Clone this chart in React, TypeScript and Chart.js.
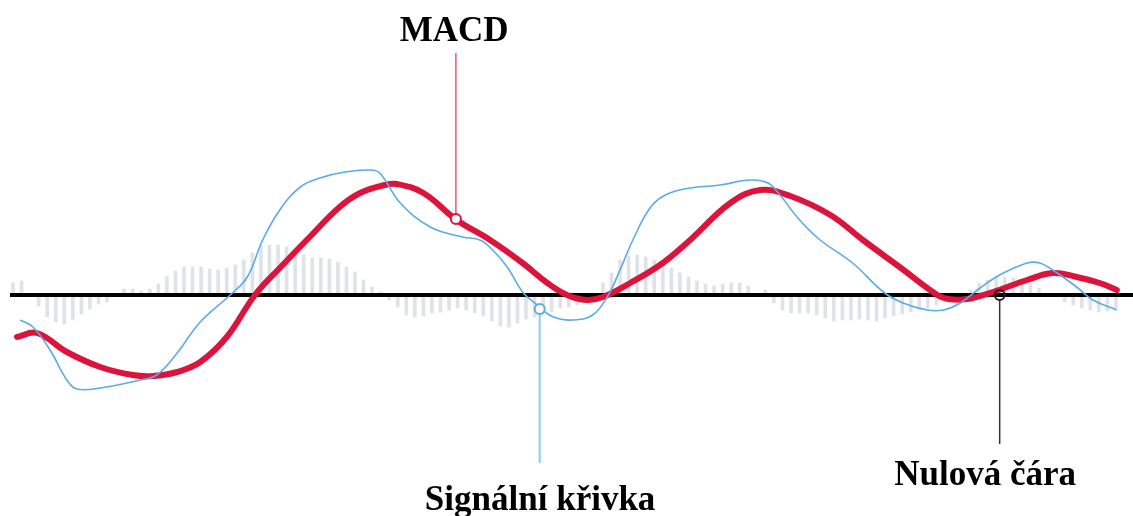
import React, { useEffect, useRef } from "react";
import { Chart, registerables } from "chart.js";

Chart.register(...registerables);

// Histogram (MACD - signal), one bar per period
const histogram: number[] = [
  12, 14, 0, -11, -22, -27, -29, -25, -19, -14, -9, -7, 0, 6, 6, 4, 6, 11, 19, 24, 28, 28, 28, 26, 25, 27, 30, 35, 42,
  50, 50, 50, 48, 43, 40, 37, 37, 36, 33, 28, 23, 15, 8,
  3, -5, -12, -20, -22, -21, -18, -17, -15, -13, -15, -18, -21, -26, -31, -32, -28, -24, -22, -20, -17, -13, -12, -10,
  -7, -4, 12, 22, 35, 39, 40, 38, 35, 32, 27, 22, 18, 14, 11, 9, 11, 12, 12, 9,
  0,
  5, -8, -15, -18, -18, -18, -20, -23, -26, -25, -25, -24, -25, -26, -23, -21, -19, -17, -15, -13, -10, -7, -4, 0, 5,
  12, 15, 18, 18, 17, 13, 12, 7, 0, 0, -7, -10, -13, -15, -17, -16, -13,
];

// MACD line
const macdX: number[] = [
  0.47, 2.8, 6.3, 10.2, 14.0, 16.4, 19.2, 21.9, 25.0, 28.3, 31.2, 34.7, 38.2, 40.6, 43.5, 44.9, 48.0, 51.9, 55.8, 59.6,
  62.5, 64.8, 67.1, 69.0, 72.2, 76.0, 79.2, 83.9, 87.4, 90.9, 95.6, 99.4, 103.7, 108.1, 109.4, 111.6, 114.6, 118.6,
  121.6, 124.4, 127.1, 129.1,
];
const macdY: number[] = [
  -42, -38, -57, -72, -80, -81, -77, -67, -42, 0, 27, 58, 88, 102, 110, 111, 102, 75, 55, 32,
  12, 0, -5, -2, 12, 32, 55, 92, 105, 99, 80, 55, 28, 0, -4, -4, 3, 15,
  22, 18, 12, 5,
];

// Signal line
const signalX: number[] = [
  0.82, 2.34, 4.33, 6.3, 7.5, 10.2, 14.9, 16.8, 19.2, 21.9, 25.4, 27.4, 29.2, 31.2, 33.6, 35.9, 38.8, 41.8, 42.9, 45.3,
  48.8, 52.6, 54.6, 56.1, 57.8, 59.6, 61.3, 63.2, 65.5, 67.8, 69.5, 71.0, 72.5, 74.5, 76.3, 79.2, 82.7, 86.2, 88.3,
  89.7, 92.0, 94.4, 98.2, 101.8, 104.1, 106.9, 108.8, 110.8, 113.1, 115.4, 118.6, 120.1, 121.6, 124.4, 126.3, 129.1,
];
const signalY: number[] = [
  -25, -32, -55, -85, -94, -93, -85, -80, -58, -27, 0, 18, 55, 85, 108, 117, 123, 125, 122, 92,
  68, 58, 55, 45, 28, 3, -10, -22, -25, -20, -2, 25, 55, 87, 100, 107, 110, 115, 112,
  100, 75, 55, 32, 3, -8, -15, -15, -8, 7, 20, 32, 32, 25, 8, -5, -15,
];

// Zero line extent
const zeroLineX: number[] = [-0.35, 131];

// Callouts
const calloutLabels: string[] = ["MACD", "Signální křivka", "Nulová čára"];
const calloutX: number[] = [51.8, 61.6, 115.4];
const calloutY: number[] = [76, -14, 0];
const calloutLineEnd: number[] = [242, -168, -149];
const calloutTextX: number[] = [51.6, 61.65, 113.7];
const calloutTextY: number[] = [254, -215, -190];

const RED = "#dc143c";
const BLUE = "#5aace6";

export default function App() {
  const ref = useRef<HTMLCanvasElement | null>(null);

  useEffect(() => {
    document.body.style.margin = "0";
    const canvas = ref.current;
    if (!canvas) return;

    const calloutStyles = [
      { line: "#e5577c", ring: RED, width: 1.5, fill: "#ffffff" },
      { line: "#8ec9f2", ring: BLUE, width: 2, fill: "#ffffff" },
      { line: "#333333", ring: "#222222", width: 1.5, fill: "" },
    ];

    const calloutPlugin = {
      id: "callouts",
      afterDatasetsDraw(chart: any) {
        const { ctx, scales } = chart;
        const xs = scales.x;
        const ys = scales.y;
        ctx.save();
        calloutLabels.forEach((label, i) => {
          const st = calloutStyles[i];
          const px = xs.getPixelForValue(calloutX[i]);
          const py = ys.getPixelForValue(calloutY[i]);
          const endY = ys.getPixelForValue(calloutLineEnd[i]);
          ctx.beginPath();
          ctx.strokeStyle = st.line;
          ctx.lineWidth = st.width;
          ctx.moveTo(px, endY > py ? py + 5 : py - 5);
          ctx.lineTo(px, endY);
          ctx.stroke();
          ctx.beginPath();
          ctx.arc(px, py, 5, 0, Math.PI * 2);
          if (st.fill) {
            ctx.fillStyle = st.fill;
            ctx.fill();
          }
          ctx.lineWidth = 2;
          ctx.strokeStyle = st.ring;
          ctx.stroke();
          ctx.fillStyle = "#000000";
          ctx.font = "bold 35px 'Liberation Serif', 'Times New Roman', serif";
          ctx.textAlign = "center";
          ctx.textBaseline = "alphabetic";
          ctx.fillText(label, xs.getPixelForValue(calloutTextX[i]), ys.getPixelForValue(calloutTextY[i]));
        });
        ctx.restore();
      },
    };

    const chart = new Chart(canvas, {
      type: "bar",
      data: {
        datasets: [
          {
            type: "line",
            label: "Signal",
            data: signalX.map((x, i) => ({ x, y: signalY[i] })),
            borderColor: BLUE,
            borderWidth: 1.6,
            pointRadius: 0,
            tension: 0.4,
            fill: false,
            order: 0,
          } as any,
          {
            type: "line",
            label: "MACD",
            data: macdX.map((x, i) => ({ x, y: macdY[i] })),
            borderColor: RED,
            borderWidth: 6,
            pointRadius: 0,
            tension: 0.4,
            fill: false,
            borderCapStyle: "round",
            order: 1,
          } as any,
          {
            type: "line",
            label: "Zero",
            data: zeroLineX.map((x) => ({ x, y: 0 })),
            borderColor: "#000000",
            borderWidth: 4,
            pointRadius: 0,
            tension: 0,
            order: 2,
          } as any,
          {
            type: "bar",
            label: "Histogram",
            data: histogram.map((v, i) => ({ x: i, y: v })),
            backgroundColor: "#dfe3e7",
            barThickness: 3,
            order: 3,
          } as any,
        ],
      },
      options: {
        responsive: false,
        animation: false,
        layout: { padding: 0 },
        plugins: { legend: { display: false }, tooltip: { enabled: false } },
        scales: {
          x: {
            type: "linear",
            display: false,
            offset: false,
            grid: { offset: false },
            bounds: "data",
            min: -13 / 8.55,
            max: 1120 / 8.55,
          },
          y: { type: "linear", display: false, min: -221, max: 295 },
        },
      },
      plugins: [calloutPlugin],
    });

    return () => chart.destroy();
  }, []);

  return <canvas ref={ref} width={1133} height={516} style={{ display: "block" }} />;
}
